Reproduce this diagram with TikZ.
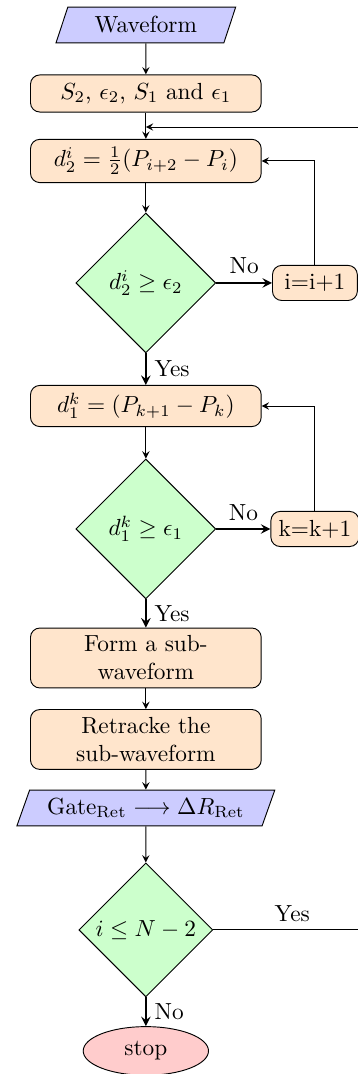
\documentclass[tikz,border=0pt]{standalone}
\usepackage{xcolor}
\usepackage{tikz}
\usetikzlibrary{shapes.geometric, arrows}
\usetikzlibrary{calc,positioning}

\tikzset{
    io/.style={trapezium, trapezium left angle=70, trapezium right angle=110,
      trapezium stretches body, minimum width=2.71cm, minimum height=0.54cm,
      text centered, draw, fill=blue!20},
    process/.style={rectangle, rounded corners, minimum width=3.48cm,
      minimum height=0.56cm, align=center, draw, fill=orange!20},
    counter/.style={rectangle, rounded corners, minimum width=1.28cm,
      minimum height=0.53cm, draw, fill=orange!20},
    decision/.style={diamond, minimum width=2.11cm, minimum height=2.11cm,
      inner sep=0pt, draw, fill=green!20},
    startstop/.style={ellipse, minimum width=1.89cm, minimum height=0.68cm,
      draw, fill=red!20},
    arrow/.style={->, >=stealth},
    choice/.style={thick, ->, >=stealth},
}

\begin{document}
\begin{tikzpicture}[scale=1]

    \useasboundingbox (0,0) rectangle (5.4,-16.2);

    % Nodes
    \node (wave) [io] at (2.2,-0.377) {Waveform};
    \node (param) [process] at (2.2,-1.41) {$S_2$, $\epsilon_2$, $S_1$ and $\epsilon_1$};
    \coordinate (join) at (2.2,-1.916);
    \node (dtwo) [process] at (2.2,-2.428) {$d_2^i=\frac{1}{2}(P_{i+2}-P_i)$};
    \node (dec1) [decision] at (2.2,-4.268) {$d_2^i \geq \epsilon_2$};
    \node (inci) [counter] at (4.75,-4.268) {i=i+1};
    \node (done) [process] at (2.2,-6.124) {$d_1^k=(P_{k+1}-P_k)$};
    \node (dec2) [decision] at (2.2,-7.979) {$d_1^k \geq \epsilon_1$};
    \node (inck) [counter] at (4.75,-7.979) {k=k+1};
    \node (form) [process] at (2.2,-9.925) {Form a sub-\\waveform};
    \node (retr) [process] at (2.2,-11.154) {Retracke the\\sub-waveform};
    \node (gate) [io, minimum width=3.89cm] at (2.2,-12.187) {$\mathrm{Gate}_{\mathrm{Ret}} \longrightarrow \Delta R_{\mathrm{Ret}}$};
    \node (dec3) [decision, minimum width=2.02cm, minimum height=2.02cm] at (2.2,-14.027) {$i \leq N-2$};
    \node (stop) [startstop] at (2.2,-15.852) {stop};
    \coordinate (loopx) at (5.6,-14.027);

    % Arrows
    \draw[arrow] (wave) -- (param);
    \draw[arrow] (param) -- (dtwo);
    \draw[arrow] (dtwo) -- (dec1);
    \draw[choice] (dec1) -- node[above] {No} (inci);
    \draw[arrow] (inci.north) |- (dtwo.east);
    \draw[choice] (dec1) -- node[right] {Yes} (done);
    \draw[arrow] (done) -- (dec2);
    \draw[choice] (dec2) -- node[above] {No} (inck);
    \draw[arrow] (inck.north) |- (done.east);
    \draw[choice] (dec2) -- node[right] {Yes} (form);
    \draw[arrow] (form) -- (retr);
    \draw[arrow] (retr) -- (gate);
    \draw[arrow] (gate) -- (dec3);
    \draw[choice] (dec3) -- node[right] {No} (stop);

    % Loop back
    \draw[arrow] (dec3.east) -- node[above] {Yes} (loopx) |- (join);
\end{tikzpicture}
\end{document}
